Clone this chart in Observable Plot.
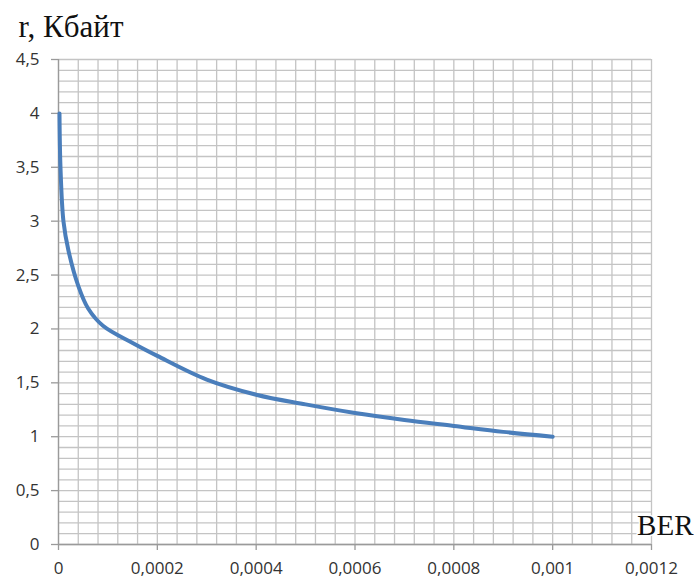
<!DOCTYPE html>
<html>
<head>
<meta charset="utf-8">
<script src="https://cdn.jsdelivr.net/npm/d3@7"></script>
<script src="https://cdn.jsdelivr.net/npm/@observablehq/plot@0.6"></script>
<style>
  html, body { margin: 0; padding: 0; background: #fff; }
  #chart svg { display: block; }
</style>
</head>
<body>
<div id="chart"></div>
<script>
// Data
const ber = [0.000002, 0.000004, 0.00001, 0.00002, 0.00004, 0.00006, 0.00009, 0.00015, 0.0002, 0.0003, 0.0004, 0.0005, 0.0006, 0.0007, 0.0008, 0.0009, 0.001];
const rKb = [4.0, 3.5, 3.0, 2.73, 2.4, 2.19, 2.03, 1.87, 1.75, 1.53, 1.39, 1.3, 1.22, 1.155, 1.1, 1.045, 1.0];

// Tick labels
const xTicks = [0, 0.0002, 0.0004, 0.0006, 0.0008, 0.001, 0.0012];
const xTickLabels = ["0", "0,0002", "0,0004", "0,0006", "0,0008", "0,001", "0,0012"];
const yTicks = [0, 0.5, 1, 1.5, 2, 2.5, 3, 3.5, 4, 4.5];
const yTickLabels = ["0", "0,5", "1", "1,5", "2", "2,5", "3", "3,5", "4", "4,5"];

// Minor grid positions (every 0.00004 on x, every 0.1 on y)
const xGrid = d3.range(0, 31).map(i => i * 0.00004);
const yGrid = d3.range(0, 46).map(i => i / 10);

const yTitle = "r, Кбайт";
const xTitle = "BER";

const data = ber.map((b, i) => ({ber: b, r: rKb[i]}));

const chart = Plot.plot({
  width: 694,
  height: 579,
  marginLeft: 58,
  marginRight: 43,
  marginTop: 59,
  marginBottom: 35,
  style: {background: "#fff", fontFamily: "'Open Sans', sans-serif"},
  x: {domain: [0, 0.0012]},
  y: {domain: [0, 4.5]},
  marks: [
    Plot.ruleX(xGrid, {stroke: "#c4c4c4", strokeWidth: 1.3}),
    Plot.ruleY(yGrid, {stroke: "#c4c4c4", strokeWidth: 1.3}),
    Plot.ruleX([0], {stroke: "#9a9a9a", strokeWidth: 1.3}),
    Plot.ruleY([0], {stroke: "#9a9a9a", strokeWidth: 1.3}),
    Plot.axisX({
      ticks: xTicks,
      tickFormat: d => xTickLabels[xTicks.indexOf(d)],
      tickSize: 6,
      tickPadding: 11,
      stroke: "#9a9a9a",
      strokeWidth: 1.3,
      fill: "#333",
      fontSize: 17,
      label: null
    }),
    Plot.axisY({
      ticks: yTicks,
      tickFormat: d => yTickLabels[yTicks.indexOf(d)],
      tickSize: 7,
      tickPadding: 12,
      stroke: "#9a9a9a",
      strokeWidth: 1.3,
      fill: "#333",
      fontSize: 17,
      label: null
    }),
    Plot.line(data, {
      x: "ber", y: "r",
      stroke: "#4a7ebb",
      strokeWidth: 4,
      curve: "catmull-rom"
    }),
    Plot.text([yTitle], {
      frameAnchor: "top-left",
      text: d => d,
      dx: -40, dy: -23,
      textAnchor: "start",
      lineAnchor: "bottom",
      fontFamily: "'Liberation Serif', serif",
      fontSize: 31,
      fill: "#111"
    }),
    Plot.text([xTitle], {
      frameAnchor: "bottom-right",
      text: d => d,
      dx: 42, dy: -10,
      textAnchor: "end",
      lineAnchor: "bottom",
      fontFamily: "'Liberation Serif', serif",
      fontSize: 29,
      fill: "#111",
      stroke: "#fff",
      strokeWidth: 3,
      paintOrder: "stroke"
    })
  ]
});

document.getElementById("chart").appendChild(chart);
</script>
</body>
</html>
